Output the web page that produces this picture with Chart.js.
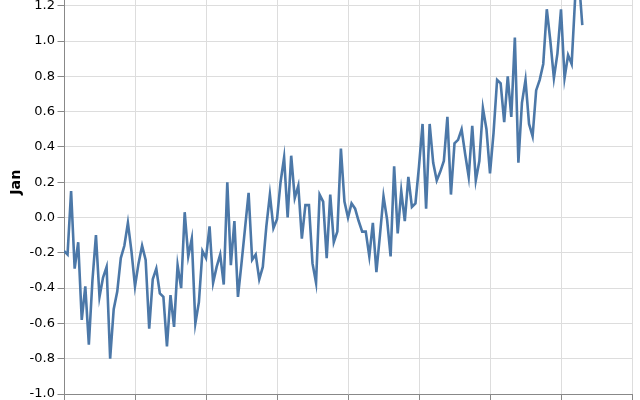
<!DOCTYPE html>
<html>
<head>
<meta charset="utf-8">
<script src="https://cdn.jsdelivr.net/npm/chart.js@4/dist/chart.umd.min.js"></script>
<style>
  html, body { margin: 0; padding: 0; background: #fff; overflow: hidden; width: 640px; height: 400px; }
  #wrap { position: absolute; left: 0; top: -40px; }
</style>
</head>
<body>
<div id="wrap"><canvas id="chart" width="700" height="464"></canvas></div>
<script>
// Datos: anomalía de enero por año
const firstYear = 1880;
const janValues = [
  -0.19, -0.21, 0.15, -0.29, -0.14, -0.58, -0.39, -0.72, -0.36, -0.10,
  -0.45, -0.34, -0.28, -0.80, -0.52, -0.42, -0.23, -0.16, -0.03, -0.19,
  -0.39, -0.26, -0.16, -0.24, -0.63, -0.35, -0.29, -0.43, -0.45, -0.73,
  -0.44, -0.62, -0.27, -0.40, 0.03, -0.22, -0.12, -0.60, -0.48, -0.19,
  -0.23, -0.05, -0.37, -0.28, -0.21, -0.38, 0.20, -0.27, -0.02, -0.45,
  -0.26, -0.06, 0.14, -0.24, -0.21, -0.35, -0.28, -0.05, 0.13, -0.06,
  -0.01, 0.20, 0.34, 0.00, 0.35, 0.11, 0.18, -0.12, 0.07, 0.07,
  -0.26, -0.37, 0.13, 0.09, -0.23, 0.13, -0.14, -0.08, 0.39, 0.09,
  0.00, 0.08, 0.05, -0.02, -0.08, -0.08, -0.22, -0.03, -0.31, -0.10,
  0.12, -0.01, -0.22, 0.29, -0.09, 0.15, -0.02, 0.23, 0.06, 0.08,
  0.29, 0.53, 0.05, 0.53, 0.31, 0.21, 0.26, 0.32, 0.57, 0.13,
  0.42, 0.44, 0.50, 0.36, 0.23, 0.52, 0.21, 0.32, 0.62, 0.50,
  0.25, 0.48, 0.78, 0.76, 0.54, 0.80, 0.57, 1.02, 0.31, 0.65,
  0.78, 0.53, 0.46, 0.72, 0.78, 0.87, 1.18, 1.00, 0.79, 0.93,
  1.18, 0.79, 0.92, 0.87, 1.25, 1.36, 1.09
];
const years = janValues.map((v, i) => firstYear + i);

// Ejes
const xMin = 1880, xMax = 2040, xStep = 20;
const yMin = -1.0, yMax = 1.4, yStep = 0.2;

const points = years.map((y, i) => ({ x: y, y: janValues[i] }));

const font = 'DejaVu Sans';

const ctx = document.getElementById('chart').getContext('2d');
new Chart(ctx, {
  type: 'line',
  data: {
    datasets: [{
      data: points,
      borderColor: '#4c78a8',
      borderWidth: 2.6,
      pointRadius: 0,
      tension: 0,
      fill: false
    }]
  },
  options: {
    responsive: false,
    animation: false,
    devicePixelRatio: 1,
    layout: { padding: { top: 8.5, right: 68, bottom: 0, left: 0 } },
    plugins: {
      legend: { display: false },
      tooltip: { enabled: false }
    },
    scales: {
      x: {
        type: 'linear',
        min: xMin,
        max: xMax,
        afterFit: (scale) => { scale.height = 30; },
        grid: { color: '#ddd', tickColor: '#888', tickLength: 6.5 },
        border: { color: '#888' },
        ticks: {
          stepSize: xStep,
          padding: 2.6,
          color: '#000',
          font: { family: font, size: 13 },
          callback: (v) => String(v)
        }
      },
      y: {
        min: yMin,
        max: yMax,
        afterFit: (scale) => { scale.width = 64; },
        grid: { color: '#ddd', tickColor: '#888', tickLength: 6.5 },
        border: { color: '#888' },
        ticks: {
          stepSize: yStep,
          padding: 2.6,
          color: '#000',
          font: { family: font, size: 13 },
          callback: (v) => (Math.abs(v) < 1e-9 ? 0 : v).toFixed(1)
        },
        title: {
          display: true,
          text: 'Jan',
          color: '#000',
          padding: { top: 7.4, bottom: 0 },
          font: { family: font, size: 14.3, weight: 'bold' }
        }
      }
    }
  }
});
</script>
</body>
</html>
